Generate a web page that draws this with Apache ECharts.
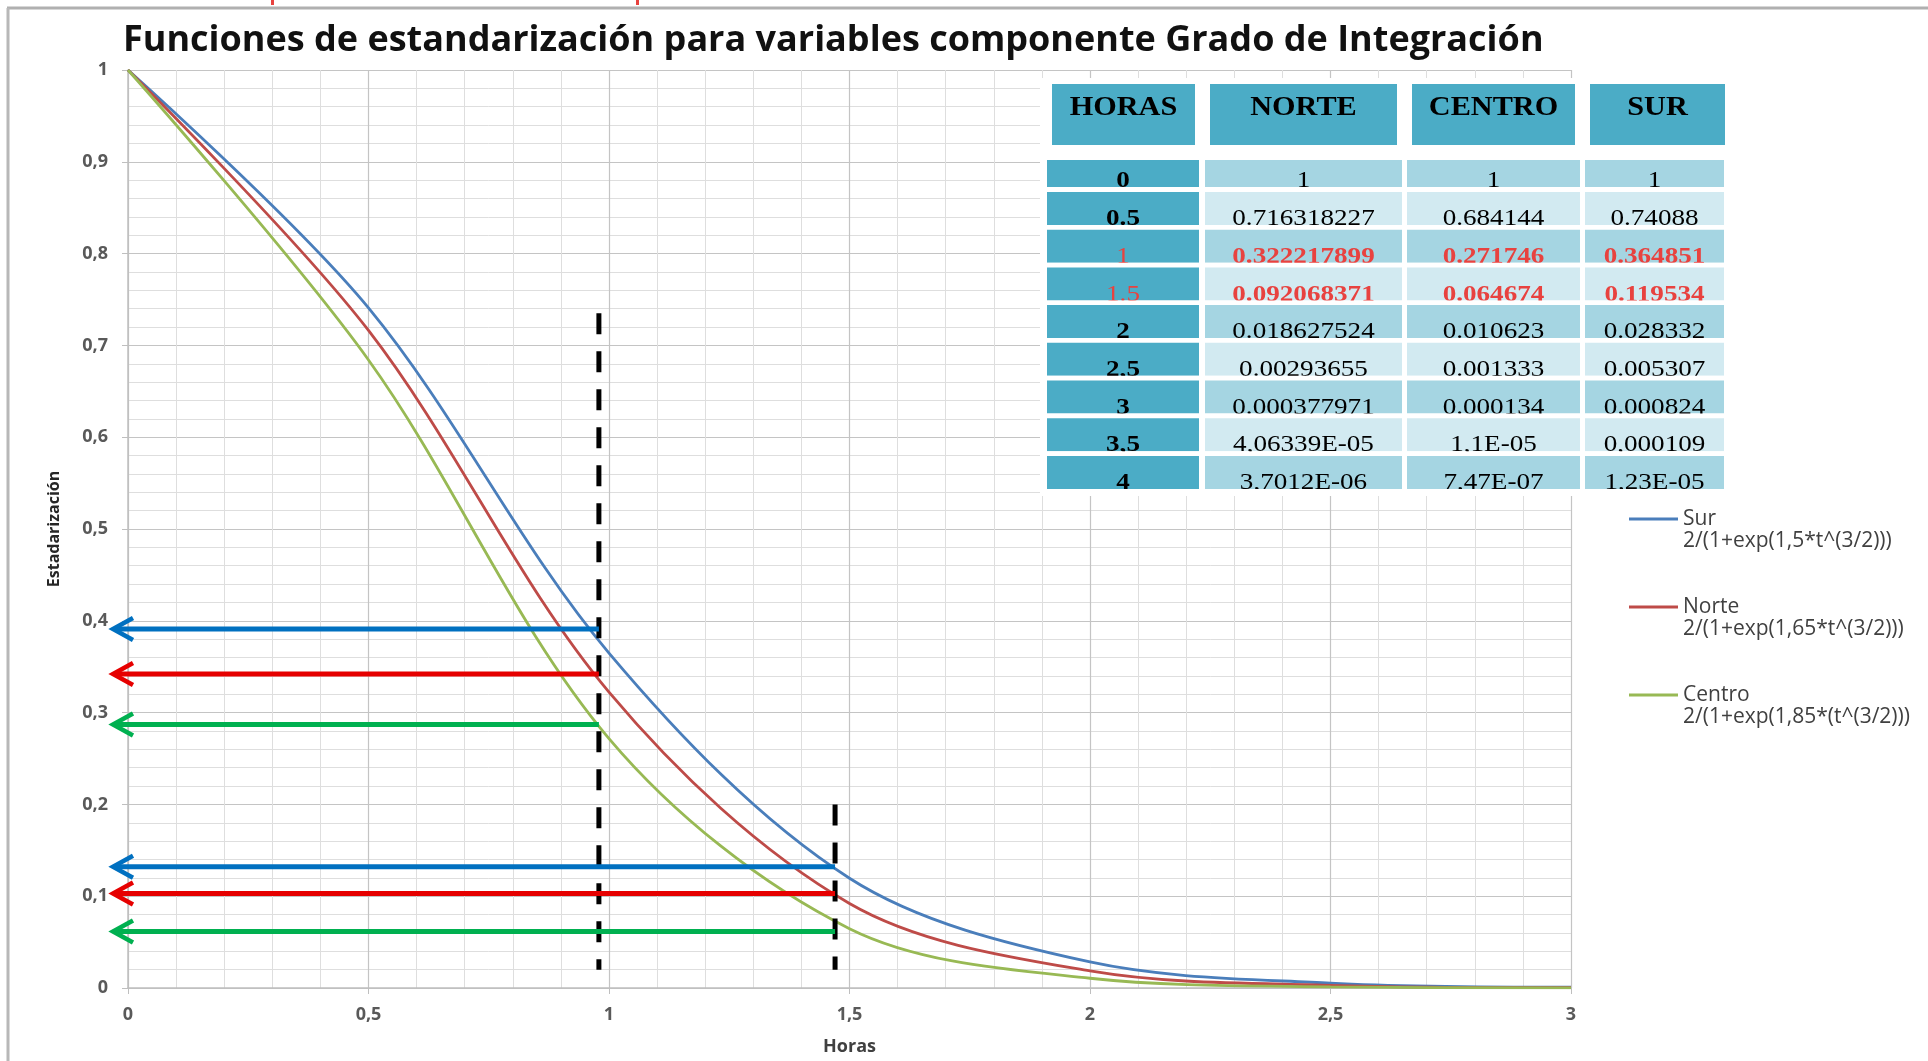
<!DOCTYPE html>
<html>
<head>
<meta charset="utf-8">
<script src="https://cdn.jsdelivr.net/npm/echarts@6/dist/echarts.min.js"></script>
<style>
html, body { margin: 0; padding: 0; background: #fff; }
#chart { width: 1928px; height: 1061px; }
</style>
</head>
<body>
<div id="chart"></div>
<script>
// tabla de valores
var horas  = ['0', '0.5', '1', '1.5', '2', '2,5', '3', '3,5', '4'];
var norte  = ['1', '0.716318227', '0.322217899', '0.092068371', '0.018627524', '0.00293655', '0.000377971', '4,06339E-05', '3,7012E-06'];
var centro = ['1', '0.684144', '0.271746', '0.064674', '0.010623', '0.001333', '0.000134', '1,1E-05', '7,47E-07'];
var sur    = ['1', '0.74088', '0.364851', '0.119534', '0.028332', '0.005307', '0.000824', '0,000109', '1,23E-05'];
var cabecera = ['HORAS', 'NORTE', 'CENTRO', 'SUR'];
var filasRojas = ['1', '1.5'];

// leyenda
var nombres = ['Sur', 'Norte', 'Centro'];
var formulas = {
  'Sur': '2/(1+exp(1,5*t^(3/2)))',
  'Norte': '2/(1+exp(1,65*t^(3/2)))',
  'Centro': '2/(1+exp(1,85*(t^(3/2)))'
};

// flechas y guías dibujadas sobre el gráfico
var flechaSerie = ['Sur', 'Norte', 'Centro', 'Sur', 'Norte', 'Centro'];
var flechaY     = [0.391, 0.342, 0.287, 0.132, 0.103, 0.0615];
var flechaX     = [0.979, 0.979, 0.979, 1.47, 1.47, 1.47];
var guiaX       = [0.979, 1.47];
var guiaArriba  = [0.735, 0.2];
var guiaAbajo   = [0.02, 0.02];

var colorCurva  = { 'Sur': '#4a7ebb', 'Norte': '#be4b48', 'Centro': '#98b954' };
var colorFlecha = { 'Sur': '#0070c0', 'Norte': '#e60000', 'Centro': '#00b050' };

function num(s) { return parseFloat(s.replace(',', '.')); }

function puntos(vals) {
  var out = [];
  for (var i = 0; i < horas.length; i++) {
    var t = num(horas[i]);
    if (t <= 3) out.push([t, num(vals[i])]);
  }
  return out;
}
var datos = { 'Sur': puntos(sur), 'Norte': puntos(norte), 'Centro': puntos(centro) };

var myChart = echarts.init(document.getElementById('chart'));

// ---- tabla como elementos graphic ----
var g = [];
var TXT_Z = 100;
g.push({ type: 'rect', z: TXT_Z, shape: { x: 1040, y: 78, width: 690, height: 418 }, style: { fill: '#fff' } });

var headL = [1052, 1210, 1412, 1590], headR = [1195, 1397, 1575, 1725];
var colL = [1047, 1205, 1407, 1585], colR = [1199, 1402, 1580, 1724];
for (var c = 0; c < 4; c++) {
  g.push({ type: 'rect', z: TXT_Z, shape: { x: headL[c], y: 84, width: headR[c] - headL[c], height: 61 }, style: { fill: '#4bacc6' } });
  g.push({ type: 'text', z: TXT_Z, x: (headL[c] + headR[c]) / 2, y: 108, scaleX: 1.08,
    style: { text: cabecera[c], fill: '#000', font: 'bold 28px "Liberation Serif"', textAlign: 'center', textVerticalAlign: 'middle', align: 'center', verticalAlign: 'middle' } });
}

var prevBottom = 145;
for (var r = 0; r < horas.length; r++) {
  var rowTop = r === 0 ? 160 : 192 + (r - 1) * 37.7;
  var rowBottom = r === 0 ? 187 : rowTop + 33;
  g.push({ type: 'rect', z: TXT_Z, shape: { x: 1040, y: prevBottom, width: 690, height: rowTop - prevBottom }, style: { fill: '#fff' } });
  var roja = filasRojas.indexOf(horas[r]) >= 0;
  var fila = [horas[r], norte[r], centro[r], sur[r]];
  for (var c2 = 0; c2 < 4; c2++) {
    var fill = c2 === 0 ? '#4bacc6' : (r % 2 === 0 ? '#a5d5e2' : '#d2eaf1');
    g.push({ type: 'rect', z: TXT_Z, shape: { x: colL[c2], y: rowTop, width: colR[c2] - colL[c2], height: rowBottom - rowTop }, style: { fill: fill } });
  }
  for (var c3 = 0; c3 < 4; c3++) {
    var bold = roja ? c3 > 0 : c3 === 0;
    g.push({ type: 'text', z: TXT_Z, x: (colL[c3] + colR[c3]) / 2, y: rowBottom - 6, scaleX: 1.13,
      style: { text: fila[c3], fill: roja ? '#e8423f' : '#000', font: (bold ? 'bold ' : '') + '24px "Liberation Serif"',
        textAlign: 'center', textVerticalAlign: 'middle', align: 'center', verticalAlign: 'middle' } });
  }
  prevBottom = rowBottom;
}
g.push({ type: 'rect', z: TXT_Z, shape: { x: 1040, y: prevBottom, width: 690, height: 6 }, style: { fill: '#fff' } });

// marco exterior y restos de texto rojo arriba
g.push({ type: 'line', z: TXT_Z, shape: { x1: 7, y1: 8, x2: 1928, y2: 8 }, style: { stroke: '#b0b0b0', lineWidth: 3 } });
g.push({ type: 'line', z: TXT_Z, shape: { x1: 8, y1: 8, x2: 8, y2: 1061 }, style: { stroke: '#b8b8b8', lineWidth: 3 } });
g.push({ type: 'rect', z: TXT_Z, shape: { x: 271, y: 0, width: 3, height: 5 }, style: { fill: '#e8423f' } });
g.push({ type: 'rect', z: TXT_Z, shape: { x: 636, y: 0, width: 3, height: 5 }, style: { fill: '#e8423f' } });

// ---- series ----
var series = [];
nombres.forEach(function (n) {
  series.push({
    name: n,
    type: 'line',
    data: datos[n],
    smooth: 0.33,
    symbol: 'none',
    lineStyle: { color: colorCurva[n], width: 2.8 },
    itemStyle: { color: colorCurva[n] },
    z: 3
  });
});

guiaX.forEach(function (x, i) {
  series.push({
    name: 'guia' + i,
    type: 'line',
    data: [[x, guiaArriba[i]], [x, guiaAbajo[i]]],
    symbol: 'none',
    lineStyle: { color: '#000', width: 5, type: [21, 17] },
    z: 5,
    silent: true
  });
});

series.push({
  name: 'flechas',
  type: 'custom',
  clip: false,
  z: 6,
  data: flechaY.map(function (y, i) { return [flechaX[i], y, i]; }),
  renderItem: function (params, api) {
    var i = api.value(2);
    var y = api.value(1);
    var a = api.coord([0, y]);
    var b = api.coord([api.value(0), y]);
    var tipX = a[0] - 15;
    var col = colorFlecha[flechaSerie[i]];
    return {
      type: 'group',
      children: [
        { type: 'line', shape: { x1: tipX + 2, y1: a[1], x2: b[0], y2: b[1] }, style: { stroke: col, lineWidth: 5 } },
        { type: 'polyline', shape: { points: [[tipX + 20, a[1] - 11], [tipX, a[1]], [tipX + 20, a[1] + 11]] }, style: { stroke: col, lineWidth: 4.5, fill: null } }
      ]
    };
  }
});

var option = {
  backgroundColor: '#fff',
  animation: false,
  title: {
    text: 'Funciones de estandarización para variables componente Grado de Integración',
    left: 118,
    top: 18,
    textStyle: { fontFamily: 'Open Sans', fontWeight: 'bold', fontSize: 36, color: '#111' }
  },
  grid: { left: 128, right: 357, top: 70, bottom: 71, containLabel: false },
  legend: {
    data: nombres,
    orient: 'vertical',
    left: 1624,
    top: 481,
    itemWidth: 49,
    itemHeight: 3,
    itemGap: 22,
    icon: 'rect',
    formatter: function (n) { return ' \n' + n + '\n' + formulas[n]; },
    textStyle: { fontFamily: 'Open Sans', fontSize: 21, color: '#404040', lineHeight: 22 }
  },
  xAxis: {
    type: 'value',
    min: 0, max: 3, interval: 0.5,
    name: 'Horas',
    nameLocation: 'middle',
    nameGap: 50,
    nameTextStyle: { fontFamily: 'Open Sans', fontWeight: 'bold', fontSize: 18, color: '#404040' },
    axisLine: { show: true, lineStyle: { color: '#bfbfbf', width: 1.5 } },
    axisTick: { show: true, length: 6, lineStyle: { color: '#bfbfbf' } },
    axisLabel: { margin: 18, fontFamily: 'Open Sans', fontWeight: 'bold', fontSize: 18, color: '#595959',
      formatter: function (v) { return String(v).replace('.', ','); } },
    splitLine: { show: true, lineStyle: { color: '#c4c4c4', width: 1.2 } },
    minorTick: { show: false, splitNumber: 5 },
    minorSplitLine: { show: true, lineStyle: { color: '#dedede', width: 1 } }
  },
  yAxis: {
    type: 'value',
    min: 0, max: 1, interval: 0.1,
    name: 'Estadarización',
    nameLocation: 'middle',
    nameGap: 66,
    nameRotate: 90,
    nameTextStyle: { fontFamily: 'Open Sans', fontWeight: 'bold', fontSize: 16, color: '#262626' },
    axisLine: { show: true, lineStyle: { color: '#bfbfbf', width: 1.5 } },
    axisTick: { show: true, length: 6, lineStyle: { color: '#bfbfbf' } },
    axisLabel: { margin: 20, fontFamily: 'Open Sans', fontWeight: 'bold', fontSize: 18, color: '#595959',
      formatter: function (v) { return String(Math.round(v * 10) / 10).replace('.', ','); } },
    splitLine: { show: true, lineStyle: { color: '#c4c4c4', width: 1.2 } },
    minorTick: { show: false, splitNumber: 5 },
    minorSplitLine: { show: true, lineStyle: { color: '#dedede', width: 1 } }
  },
  graphic: g,
  series: series
};

myChart.setOption(option);
</script>
</body>
</html>
